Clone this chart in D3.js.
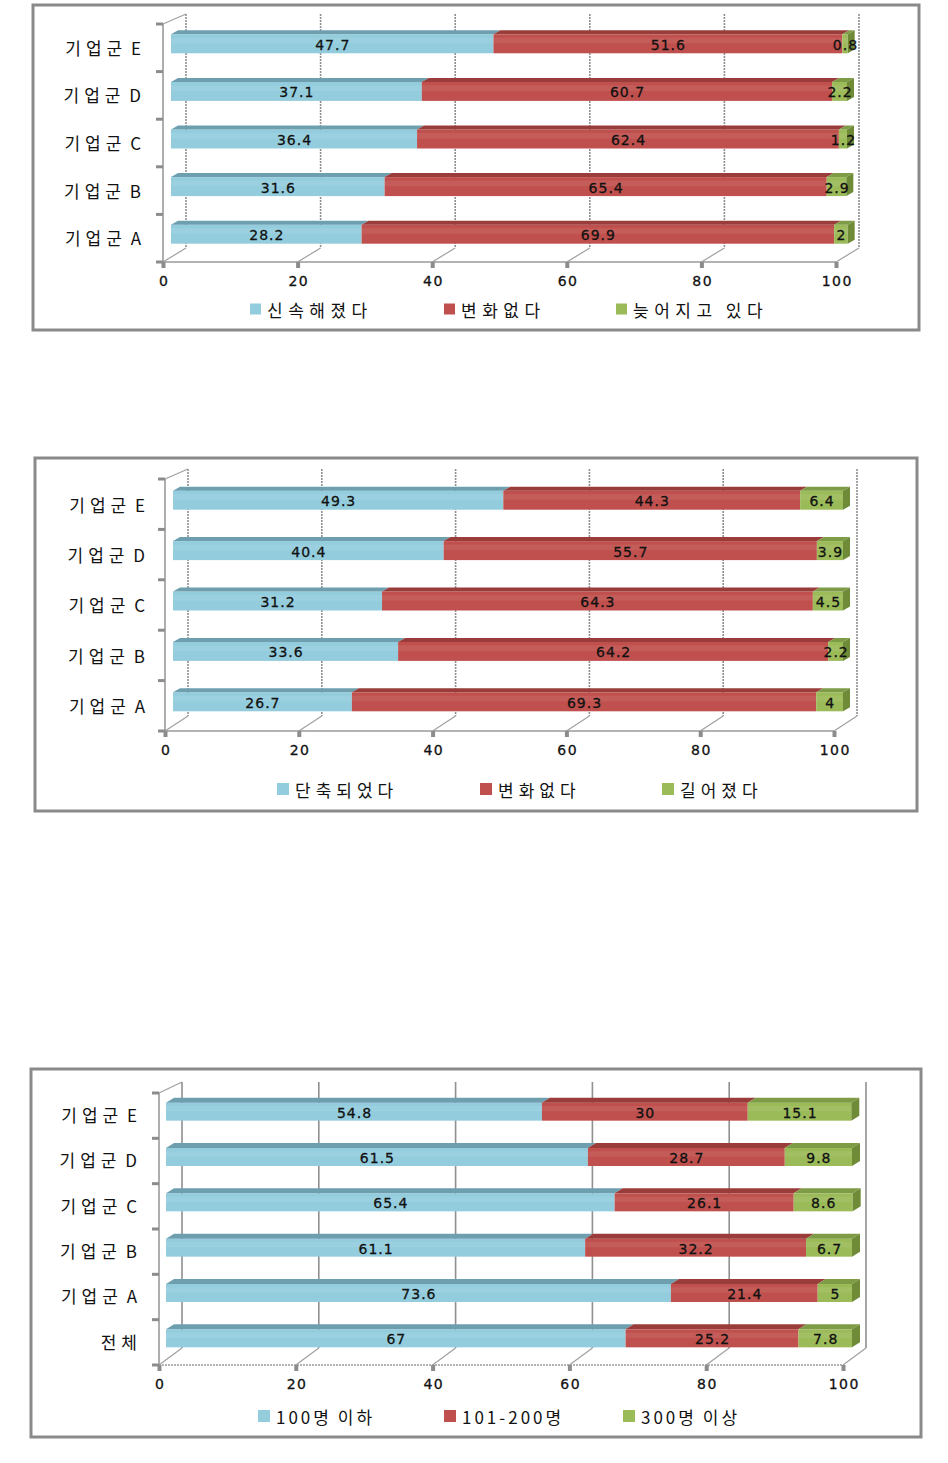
<!DOCTYPE html>
<html>
<head>
<meta charset="utf-8">
<script src="https://cdn.jsdelivr.net/npm/d3@7"></script>
<style>
  html, body { margin: 0; padding: 0; background: #fff; }
  svg { display: block; }
</style>
</head>
<body>
<svg id="chart" width="948" height="1463"></svg>
<script>
// ---------------- DATA ----------------
const xTicks = [0, 20, 40, 60, 80, 100];

// Chart 1
const categories1 = ["기업군 E", "기업군 D", "기업군 C", "기업군 B", "기업군 A"];
const seriesNames1 = ["신속해졌다", "변화없다", "늦어지고 있다"];
const faster1 = [47.7, 37.1, 36.4, 31.6, 28.2];
const noChange1 = [51.6, 60.7, 62.4, 65.4, 69.9];
const slower1 = [0.8, 2.2, 1.2, 2.9, 2];

// Chart 2
const categories2 = ["기업군 E", "기업군 D", "기업군 C", "기업군 B", "기업군 A"];
const seriesNames2 = ["단축되었다", "변화없다", "길어졌다"];
const shorter2 = [49.3, 40.4, 31.2, 33.6, 26.7];
const noChange2 = [44.3, 55.7, 64.3, 64.2, 69.3];
const longer2 = [6.4, 3.9, 4.5, 2.2, 4];

// Chart 3
const categories3 = ["기업군 E", "기업군 D", "기업군 C", "기업군 B", "기업군 A", "전체"];
const seriesNames3 = ["100명 이하", "101-200명", "300명 이상"];
const small3 = [54.8, 61.5, 65.4, 61.1, 73.6, 67];
const medium3 = [30, 28.7, 26.1, 32.2, 21.4, 25.2];
const large3 = [15.1, 9.8, 8.6, 6.7, 5, 7.8];

// ---------------- STYLE ----------------
const front = ["#93CDDD", "#C0504D", "#9BBB59"];
const topC  = ["#6E9FAF", "#9A3C3A", "#7E9B46"];
const sideC = ["#6E9FAF", "#963A38", "#6F8B37"];
const axisGray = "#8c8c8c";

const svg = d3.select("#chart");

function drawChart(cfg, cats, seriesVals, names) {
  const g = svg.append("g");
  g.append("rect")
    .attr("x", cfg.box[0]).attr("y", cfg.box[1])
    .attr("width", cfg.box[2]).attr("height", cfg.box[3])
    .attr("fill", "#fff").attr("stroke", "#8a8a8a").attr("stroke-width", 3);

  const x = d3.scaleLinear().domain([0, 100]).range([cfg.x0, cfg.x100]);
  const xb = d3.scaleLinear().domain([0, 100]).range([cfg.bx0, cfg.bx100]);
  const y = d3.scaleBand().domain(cats).range([cfg.yTop, cfg.yBot]).paddingInner(0).paddingOuter(0);

  const gl = g.append("g");
  xTicks.forEach(t => {
    gl.append("line")
      .attr("x1", x(t) + cfg.dx).attr("x2", x(t) + cfg.dx)
      .attr("y1", cfg.yTop + cfg.dyTop).attr("y2", cfg.yBot + cfg.dyBot)
      .attr("stroke", "#8f8f8f").attr("stroke-width", 1.6)
      .attr("stroke-dasharray", cfg.gridDash);
    gl.append("line")
      .attr("x1", x(t)).attr("y1", cfg.yBot)
      .attr("x2", x(t) + cfg.dx).attr("y2", cfg.yBot + cfg.dyBot)
      .attr("stroke", "#a0a0a0").attr("stroke-width", 1.2);
  });
  gl.append("line")
    .attr("x1", cfg.x0).attr("y1", cfg.yTop)
    .attr("x2", cfg.x0 + cfg.dx).attr("y2", cfg.yTop + cfg.dyTop)
    .attr("stroke", "#a0a0a0").attr("stroke-width", 1.2);
  gl.append("line")
    .attr("x1", cfg.x0).attr("x2", cfg.x0)
    .attr("y1", cfg.yTop).attr("y2", cfg.yBot)
    .attr("stroke", "#9a9a9a").attr("stroke-width", 1.6);
  gl.append("line")
    .attr("x1", cfg.x0).attr("x2", cfg.x100)
    .attr("y1", cfg.yBot).attr("y2", cfg.yBot)
    .attr("stroke", "#9a9a9a").attr("stroke-width", 1.6)
    .attr("stroke-dasharray", cfg.floorDash);

  const bounds = cats.map(c => y(c)).concat([cfg.yBot]);
  bounds.forEach(b => {
    gl.append("line")
      .attr("x1", cfg.x0 - 7).attr("x2", cfg.x0)
      .attr("y1", b).attr("y2", b)
      .attr("stroke", axisGray).attr("stroke-width", 3);
  });

  const xAxis = d3.axisBottom(x).tickValues(xTicks).tickSize(6).tickPadding(cfg.xLabelPad).tickFormat(d3.format("d"));
  const xa = g.append("g").attr("transform", `translate(0,${cfg.yBot})`).call(xAxis);
  xa.select(".domain").remove();
  xa.selectAll(".tick line").attr("stroke", axisGray).attr("stroke-width", 4);
  xa.selectAll(".tick text")
    .attr("font-family", "DejaVu Sans, Verdana, sans-serif")
    .attr("font-size", 14).attr("fill", "#111")
    .attr("stroke", "#111").attr("stroke-width", 0.3)
    .attr("letter-spacing", 1.5).attr("dx", 0.75);

  const yAxis = d3.axisLeft(y).tickSize(0).tickPadding(0);
  const ya = g.append("g").attr("transform", `translate(${cfg.catRight + 5},${cfg.catDy})`).call(yAxis);
  ya.select(".domain").remove();
  ya.selectAll(".tick text")
    .attr("font-family", "Noto Sans CJK KR, sans-serif")
    .attr("font-size", 17).attr("fill", "#111")
    .attr("letter-spacing", 5).attr("word-spacing", -5);

  const stacked = cats.map((c, i) => {
    let cum = 0;
    return seriesVals.map((arr, s) => {
      const seg = { cat: c, s, v: arr[i], x0: cum, x1: cum + arr[i] };
      cum += arr[i];
      return seg;
    });
  });
  const bars = g.append("g");
  stacked.forEach(segs => {
    segs.forEach((d, k) => {
      const yc = y(d.cat) + y.bandwidth() / 2 + cfg.barShift;
      const yT = yc - cfg.barH / 2;
      const xs = xb(d.x0), xe = xb(d.x1);
      bars.append("rect")
        .attr("x", xs).attr("y", yT)
        .attr("width", Math.max(0, xe - xs)).attr("height", cfg.barH)
        .attr("fill", front[d.s]);
      bars.append("rect")
        .attr("x", xs).attr("y", yT + cfg.barH * 0.18)
        .attr("width", Math.max(0, xe - xs)).attr("height", cfg.barH * 0.3)
        .attr("fill", "#ffffff").attr("opacity", 0.07);
      bars.append("polygon")
        .attr("points", [[xs, yT], [xs + cfg.tdx, yT - cfg.tdy], [xe + cfg.tdx, yT - cfg.tdy], [xe, yT]].map(p => p.join(",")).join(" "))
        .attr("fill", topC[d.s]);
      if (k === segs.length - 1) {
        bars.append("polygon")
          .attr("points", [[xe, yT], [xe + cfg.tdx, yT - cfg.tdy], [xe + cfg.tdx, yT + cfg.barH - cfg.tdy], [xe, yT + cfg.barH]].map(p => p.join(",")).join(" "))
          .attr("fill", sideC[d.s]);
      }
      bars.append("text")
        .attr("x", (xs + xe) / 2 + 0.5).attr("y", yc + 1)
        .attr("text-anchor", "middle").attr("dominant-baseline", "central")
        .attr("font-family", "DejaVu Sans, Verdana, sans-serif")
        .attr("font-size", 14).attr("letter-spacing", 1).attr("fill", "#111")
        .attr("stroke", "#111").attr("stroke-width", 0.3)
        .text(d.v);
    });
  });

  const lg = g.append("g");
  names.forEach((n, i) => {
    lg.append("rect")
      .attr("x", cfg.legX[i] - cfg.legSq - 6).attr("y", cfg.legendY - cfg.legSq / 2)
      .attr("width", cfg.legSq).attr("height", cfg.legSq)
      .attr("fill", front[i]);
    lg.append("text")
      .attr("x", cfg.legX[i]).attr("y", cfg.legendY)
      .attr("dominant-baseline", "central")
      .attr("font-family", "Noto Sans CJK KR, sans-serif")
      .attr("font-size", 17).attr("letter-spacing", cfg.legLs).attr("word-spacing", -1).attr("fill", "#111")
      .text(n);
  });
}

drawChart({
  box: [33, 5, 886, 325],
  x0: 163, x100: 836, yTop: 24, yBot: 262, dx: 23, dyTop: -10, dyBot: -14,
  bx0: 171, bx100: 847, barH: 19, barShift: -4, tdx: 7, tdy: 4,
  xLabelPad: 8, catRight: 141, catDy: 1.5, legendY: 309, legX: [267, 461, 633], legSq: 11, legLs: 5.5,
  gridDash: "2,1", floorDash: null
}, categories1, [faster1, noChange1, slower1], seriesNames1);

drawChart({
  box: [35, 458, 882, 353],
  x0: 165, x100: 834, yTop: 479, yBot: 731, dx: 23, dyTop: -10, dyBot: -15,
  bx0: 173, bx100: 843, barH: 19, barShift: -4, tdx: 7, tdy: 4,
  xLabelPad: 8, catRight: 145, catDy: 2, legendY: 789, legX: [295, 498, 680], legSq: 12, legLs: 5,
  gridDash: "2,1", floorDash: null
}, categories2, [shorter2, noChange2, longer2], seriesNames2);

drawChart({
  box: [31, 1069, 890, 368],
  x0: 159, x100: 843, yTop: 1093, yBot: 1365, dx: 23, dyTop: -11, dyBot: -17,
  bx0: 166, bx100: 852, barH: 18, barShift: -4, tdx: 8, tdy: 5,
  xLabelPad: 8, catRight: 137, catDy: 1, legendY: 1416, legX: [276, 462, 641], legSq: 12, legLs: 3,
  gridDash: null, floorDash: "2,1"
}, categories3, [small3, medium3, large3], seriesNames3);
</script>
</body>
</html>
